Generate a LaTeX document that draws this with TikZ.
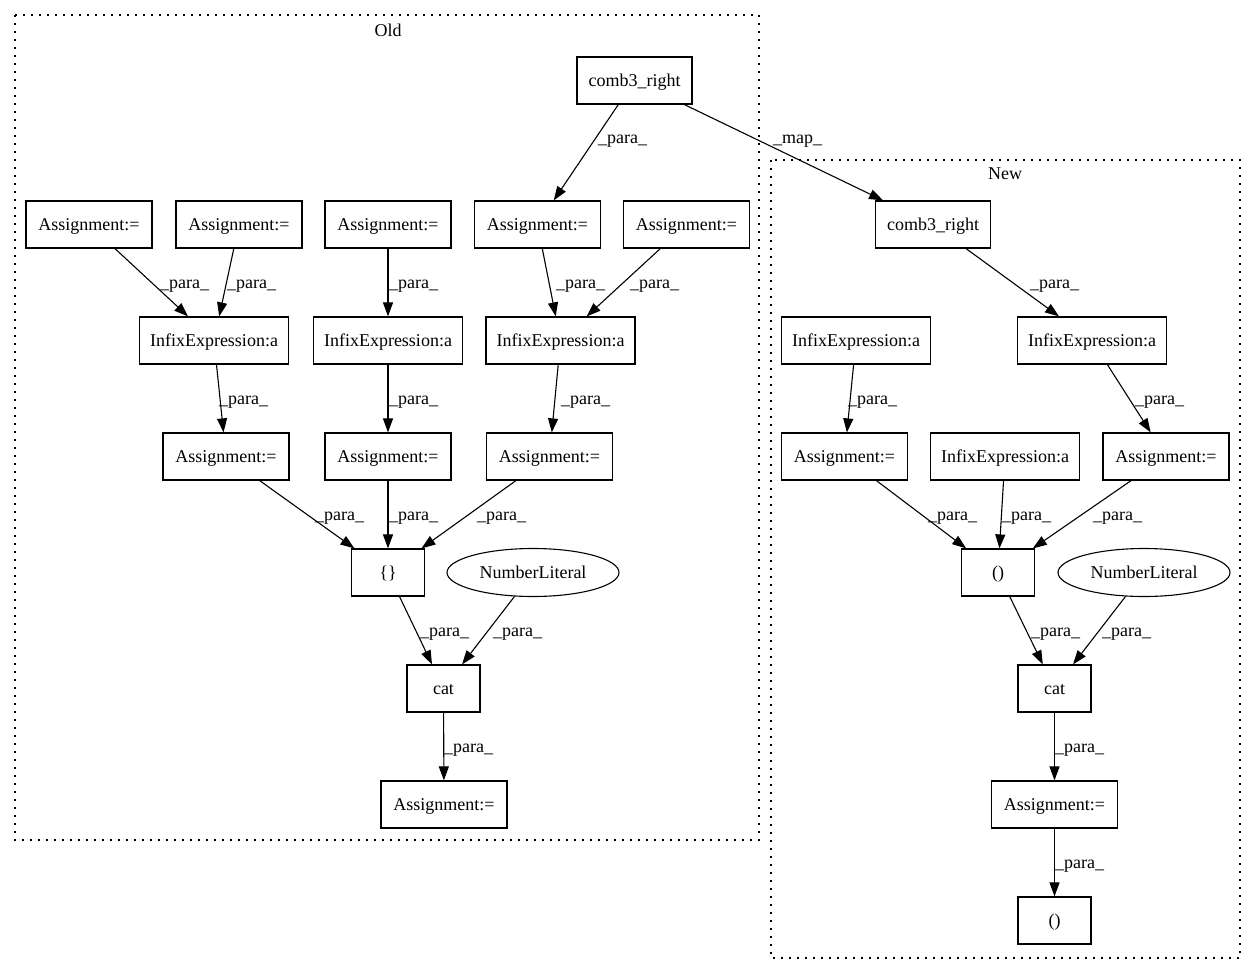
\documentclass[tikz,border=0pt]{standalone}
\usepackage{fontspec}
\setmainfont{Liberation Serif}
\usetikzlibrary{arrows.meta,shapes.geometric}
\begin{document}
\begin{tikzpicture}[x=1pt,y=-1pt,
  every node/.style={font=\fontsize{18}{21}\selectfont},
  box/.style={draw, line width=1.2pt, minimum height=47pt, inner sep=0pt, text height=13.5pt, text depth=2.5pt},
  asg/.style={box, minimum width=126pt},
  inf/.style={box, minimum width=149pt},
  sml/.style={box, minimum width=73pt},
  cmb/.style={box, minimum width=115pt},
  lit/.style={draw, ellipse, line width=1.1pt, minimum width=172pt, minimum height=48pt, inner sep=0pt, text height=13.5pt, text depth=2.5pt},
  conn/.style={draw, line width=1.1pt, -{Triangle[length=14pt,width=10pt]}},
  lbl/.style={anchor=west, inner sep=0pt, text height=12pt, text depth=4pt},
  cluster/.style={draw, line width=1.5pt, dash pattern=on 1.8pt off 6.2pt}]
\useasboundingbox (0,0) rectangle (1256,972);

% clusters
\draw[cluster] (15,15) rectangle (759,840);
\node (oldlbl) at (388,30) {Old};
\draw[cluster] (771,160) rectangle (1240,958);
\node (newlbl) at (1005,174) {New};

% Old nodes
\node[cmb] (co) at (634.5,80.5) {comb3\_right};
\node[asg] (a1) at (89,224.5) {Assignment:=};
\node[asg] (a2) at (239,224.5) {Assignment:=};
\node[asg] (a3) at (388,224.5) {Assignment:=};
\node[asg] (a4) at (537.5,224.5) {Assignment:=};
\node[asg] (a5) at (686.5,224.5) {Assignment:=};
\node[inf] (i1) at (214,340.5) {InfixExpression:a};
\node[inf] (i2) at (388,340.5) {InfixExpression:a};
\node[inf] (i3) at (560.5,340.5) {InfixExpression:a};
\node[asg] (b1) at (226,456.5) {Assignment:=};
\node[asg] (b2) at (388,456.5) {Assignment:=};
\node[asg] (b3) at (549.5,456.5) {Assignment:=};
\node[sml] (br) at (388,572.5) {\{\}};
\node[lit] (nl1) at (533,572.5) {NumberLiteral};
\node[sml] (cat1) at (443.5,688.5) {cat};
\node[asg] (af) at (444,804.5) {Assignment:=};

% New nodes
\node[cmb] (cn) at (933,224.5) {comb3\_right};
\node[inf] (i4) at (856,340.5) {InfixExpression:a};
\node[inf] (i5) at (1092,340.5) {InfixExpression:a};
\node[asg] (c1) at (844.5,456.5) {Assignment:=};
\node[inf] (i6) at (1005,456.5) {InfixExpression:a};
\node[asg] (c2) at (1166,456.5) {Assignment:=};
\node[sml] (pa) at (998,572.5) {()};
\node[lit] (nl2) at (1144,572.5) {NumberLiteral};
\node[sml] (cat2) at (1054.5,688.5) {cat};
\node[asg] (an) at (1054.5,804.5) {Assignment:=};
\node[sml] (pb) at (1054.5,920.5) {()};

% Old edges
\draw[conn] (co) -- (a4);
\draw[conn] (co) -- (cn);
\draw[conn] (a1) -- (i1);
\draw[conn] (a2) -- (i1);
\draw[conn] (a3) -- (i2);
\draw[conn] (a4) -- (i3);
\draw[conn] (a5) -- (i3);
\draw[conn] (i1) -- (b1);
\draw[conn] (i2) -- (b2);
\draw[conn] (i3) -- (b3);
\draw[conn] (b1) -- (br);
\draw[conn] (b2) -- (br);
\draw[conn] (b3) -- (br);
\draw[conn] (br) -- (cat1);
\draw[conn] (nl1) -- (cat1);
\draw[conn] (cat1) -- (af);

% New edges
\draw[conn] (cn) -- (i5);
\draw[conn] (i4) -- (c1);
\draw[conn] (i5) -- (c2);
\draw[conn] (c1) -- (pa);
\draw[conn] (i6) -- (pa);
\draw[conn] (c2) -- (pa);
\draw[conn] (pa) -- (cat2);
\draw[conn] (nl2) -- (cat2);
\draw[conn] (cat2) -- (an);
\draw[conn] (an) -- (pb);

% labels
\node[lbl] (l1) at (598,139) {\_para\_};
\node[lbl] (l2) at (773,139) {\_map\_};
\node[lbl] (l3) at (160,284) {\_para\_};
\node[lbl] (l4) at (227,284) {\_para\_};
\node[lbl] (l5) at (389,284) {\_para\_};
\node[lbl] (l6) at (556,284) {\_para\_};
\node[lbl] (l7) at (630,284) {\_para\_};
\node[lbl] (l8) at (219,400) {\_para\_};
\node[lbl] (l9) at (389,400) {\_para\_};
\node[lbl] (l10) at (561,400) {\_para\_};
\node[lbl] (l11) at (315,516) {\_para\_};
\node[lbl] (l12) at (389,516) {\_para\_};
\node[lbl] (l13) at (477,516) {\_para\_};
\node[lbl] (l14) at (420,632) {\_para\_};
\node[lbl] (l15) at (493,632) {\_para\_};
\node[lbl] (l16) at (444,748) {\_para\_};
\node[lbl] (l17) at (1030,284) {\_para\_};
\node[lbl] (l18) at (848,400) {\_para\_};
\node[lbl] (l19) at (1135,400) {\_para\_};
\node[lbl] (l20) at (928,516) {\_para\_};
\node[lbl] (l21) at (1002,516) {\_para\_};
\node[lbl] (l22) at (1093,516) {\_para\_};
\node[lbl] (l23) at (1031,632) {\_para\_};
\node[lbl] (l24) at (1102,632) {\_para\_};
\node[lbl] (l25) at (1055,748) {\_para\_};
\node[lbl] (l26) at (1055,864) {\_para\_};
\end{tikzpicture}
\end{document}
